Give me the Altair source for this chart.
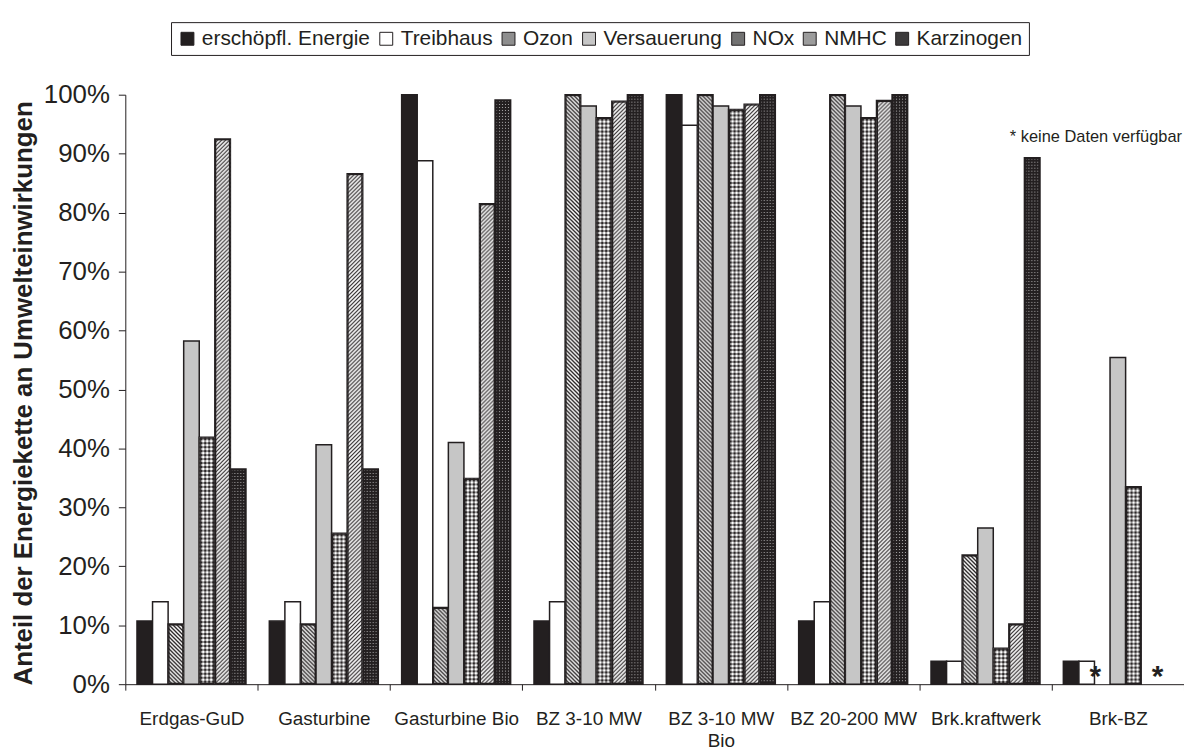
import base64
import altair as alt
import pandas as pd

# ---------------- data ----------------
groups = ["Erdgas-GuD", "Gasturbine", "Gasturbine Bio", "BZ 3-10 MW",
          "BZ 3-10 MW Bio", "BZ 20-200 MW", "Brk.kraftwerk", "Brk-BZ"]
series = ["erschöpfl. Energie", "Treibhaus", "Ozon", "Versauerung",
          "NOx", "NMHC", "Karzinogen"]

v_energie = [10.7, 10.7, 100.0, 10.7, 100.0, 10.7, 3.9, 3.9]
v_treibhaus = [14.0, 14.0, 88.8, 14.0, 94.8, 14.0, 3.9, 3.9]
v_ozon = [10.2, 10.2, 13.0, 100.0, 100.0, 100.0, 21.9, None]
v_versauerung = [58.2, 40.6, 41.0, 98.1, 98.1, 98.1, 26.5, 55.4]
v_nox = [41.9, 25.6, 34.9, 96.1, 97.5, 96.1, 6.1, 33.5]
v_nmhc = [92.5, 86.6, 81.5, 98.9, 98.4, 99.0, 10.2, None]
v_karzinogen = [36.5, 36.5, 99.1, 100.0, 100.0, 100.0, 89.3, None]

y_ticks = [0, 10, 20, 30, 40, 50, 60, 70, 80, 90, 100]
missing_group = ["Brk-BZ", "Brk-BZ"]
missing_series = ["Ozon", "Karzinogen"]
note_text = "* keine Daten verfügbar"

all_values = [v_energie, v_treibhaus, v_ozon, v_versauerung, v_nox, v_nmhc, v_karzinogen]
rows = []
for s, vals in zip(series, all_values):
    for g, v in zip(groups, vals):
        if v is not None:
            rows.append({"Gruppe": g, "Kategorie": s, "Anteil": v})
df = pd.DataFrame(rows)

df_missing = pd.DataFrame({"Gruppe": missing_group, "Kategorie": missing_series,
                           "Zeichen": ["*"] * len(missing_group)})
df_note = pd.DataFrame({"Hinweis": [note_text]})

# ---------------- styles ----------------
INK = "#231f20"
legend_fills = [INK, "#ffffff", "#8e8e8e", "#c6c6c6", "#727272", "#9c9c9c", "#3c3a3b"]


def svg_uri(tile, body):
    svg = (
        "<svg xmlns='http://www.w3.org/2000/svg'>"
        "<defs><pattern id='p' x='0' y='0' width='%s' height='%s' patternUnits='userSpaceOnUse'>%s</pattern></defs>"
        "<rect width='100%%' height='100%%' fill='url(#p)'/>"
        "<rect width='100%%' height='100%%' fill='none' stroke='%s' stroke-width='3'/>"
        "</svg>" % (tile, tile, body, INK)
    )
    return "data:image/svg+xml;base64," + base64.b64encode(svg.encode("utf-8")).decode("ascii")


def back_hatch(t, w):
    return ("<rect width='%d' height='%d' fill='white'/>"
            "<path d='M-1,-1L%d,%d M%d,-1L%d,1 M-1,%d L1,%d' stroke='%s' stroke-width='%s'/>"
            % (t, t, t + 1, t + 1, t - 1, t + 1, t - 1, t + 1, INK, w))


def fwd_hatch(t, w):
    return ("<rect width='%d' height='%d' fill='white'/>"
            "<path d='M-1,%d L%d,-1 M-1,1 L1,-1 M%d,%d L%d,%d' stroke='%s' stroke-width='%s'/>"
            % (t, t, t + 1, t + 1, t - 1, t + 1, t + 1, t - 1, INK, w))


patterns = {
    "Ozon": svg_uri(4, back_hatch(4, 1.35)),
    "NOx": svg_uri(4, "<rect width='4' height='4' fill='white'/>"
                      "<rect x='0.4' y='1.2' width='3.2' height='1.6' fill='%s'/>"
                      "<rect x='1.2' y='0.4' width='1.6' height='3.2' fill='%s'/>" % (INK, INK)),
    "NMHC": svg_uri(4, fwd_hatch(4, 1.15)),
    "Karzinogen": svg_uri(3, "<rect width='3' height='3' fill='%s'/>"
                             "<circle cx='1.5' cy='1.5' r='0.6' fill='white' fill-opacity='0.7'/>" % INK),
}

x_enc = alt.X("Gruppe:N", sort=groups,
              scale=alt.Scale(paddingInner=0, paddingOuter=0),
              axis=alt.Axis(title=None, labelAngle=0, tickBand="extent", tickSize=6,
                            labelPadding=20, labelFontSize=19, labelLineHeight=22,
                            labelOverlap=False, labelLimit=300, labelColor=INK,
                            domainColor=INK, tickColor=INK,
                            labelExpr="datum.label == 'BZ 3-10 MW Bio' ? ['BZ 3-10 MW', 'Bio'] : datum.label"))
xo_enc = alt.XOffset("Kategorie:N", sort=series,
                     scale=alt.Scale(paddingInner=0, paddingOuter=0.75))
y_enc = alt.Y("Anteil:Q",
              scale=alt.Scale(domain=[0, 100], nice=False),
              axis=alt.Axis(values=y_ticks, labelExpr="datum.value + '%'", grid=False,
                            tickSize=7, labelPadding=9, labelFontSize=26, labelColor=INK,
                            domainColor=INK, tickColor=INK,
                            title="Anteil der Energiekette an Umwelteinwirkungen",
                            titleFontSize=26, titleFontWeight="bold", titleColor=INK,
                            titleAngle=270, titleAlign="center", titleBaseline="alphabetic",
                            titleX=-94, titleY=300))

bars = alt.Chart(df).mark_bar(stroke=INK, strokeWidth=1.5).encode(
    x=x_enc,
    xOffset=xo_enc,
    y=y_enc,
    fill=alt.Fill("Kategorie:N", sort=series,
                  scale=alt.Scale(domain=series, range=legend_fills),
                  legend=alt.Legend(orient="none", legendX=46, legendY=-73,
                                    direction="horizontal", columns=7, title=None,
                                    symbolType="square", symbolSize=169,
                                    symbolStrokeColor=INK, symbolStrokeWidth=1,
                                    labelFontSize=21, labelOffset=4, labelColor=INK,
                                    labelLimit=300, columnPadding=5, padding=6,
                                    strokeColor=INK)),
)

layers = [bars]
for name, uri in patterns.items():
    layers.append(
        alt.Chart(df).transform_filter(alt.datum.Kategorie == name)
        .mark_image(aspect=False)
        .encode(
            x=alt.X("Gruppe:N", sort=groups),
            xOffset=alt.XOffset("Kategorie:N", sort=series),
            y=alt.Y("Anteil:Q"),
            y2=alt.datum(0),
            url=alt.value(uri),
        )
    )

stars = alt.Chart(df_missing).mark_text(fontSize=30, fontWeight="bold", color=INK,
                                         baseline="alphabetic", dx=-7, dy=2).encode(
    x=alt.X("Gruppe:N", sort=groups),
    xOffset=alt.XOffset("Kategorie:N", sort=series),
    y=alt.datum(0),
    text="Zeichen:N",
)

note = alt.Chart(df_note).mark_text(fontSize=16.5, color=INK, align="right",
                                    baseline="middle").encode(
    x=alt.value(1063),
    y=alt.datum(92.9),
    text="Hinweis:N",
)

chart = alt.layer(*layers, stars, note).properties(
    width=1065, height=593,
    padding={"left": 118, "top": 85, "right": 0, "bottom": 66},
    autosize=alt.AutoSizeParams(type="none"),
    background="white",
).configure(
    font="Liberation Sans",
).configure_view(stroke=None)

chart.save("out.html", embed_options={"renderer": "svg", "actions": False})
